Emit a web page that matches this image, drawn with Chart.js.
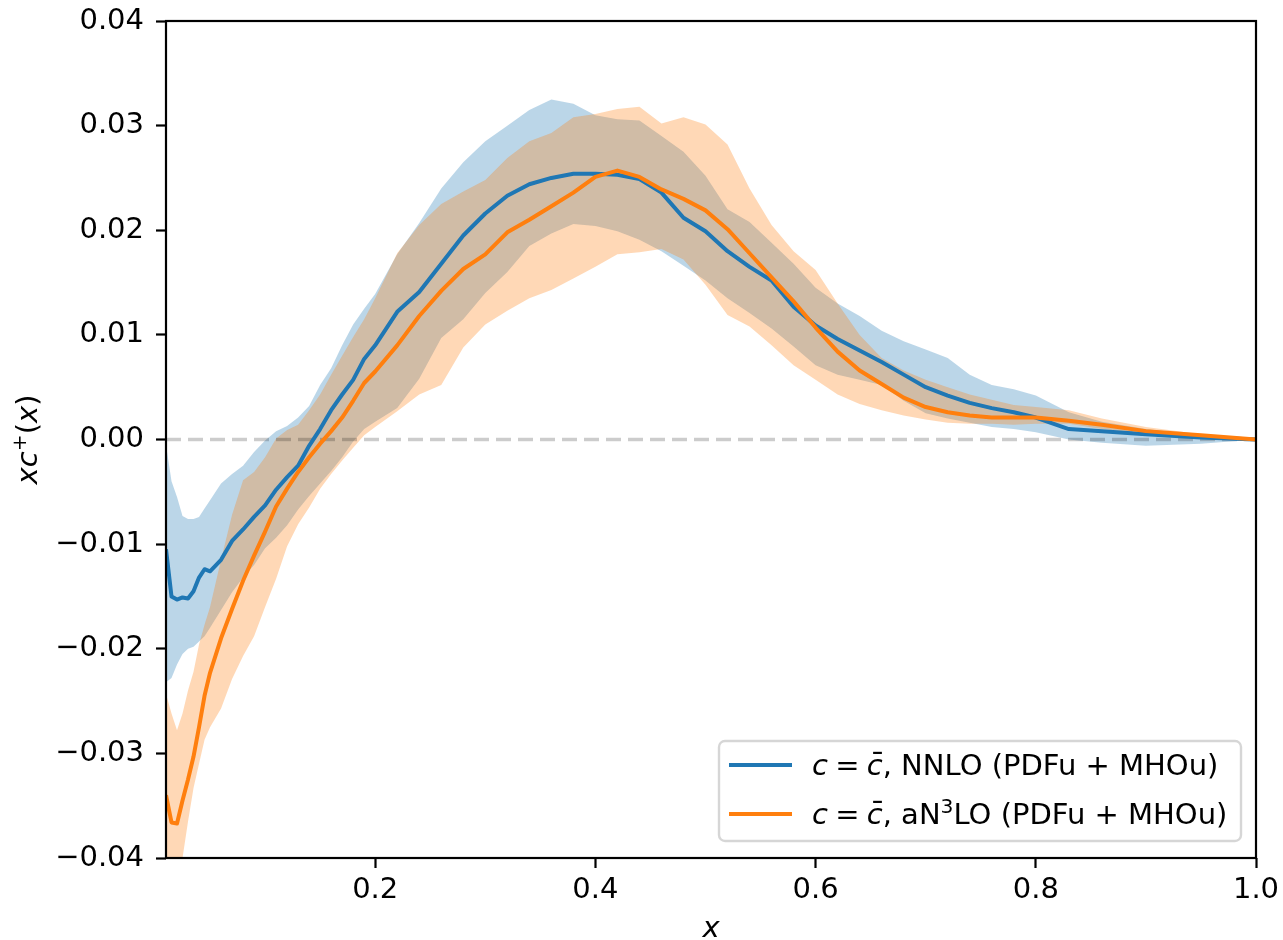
<!DOCTYPE html>
<html>
<head>
<meta charset="utf-8">
<script src="https://cdn.jsdelivr.net/npm/chart.js@4.4.1/dist/chart.umd.min.js"></script>
<style>
  html, body { margin: 0; padding: 0; background: #ffffff; }
  #wrap { width: 1283px; height: 940px; position: relative; }
</style>
</head>
<body>
<div id="wrap"><canvas id="c" width="1283" height="940"></canvas></div>
<script>
// ---------------- data ----------------
const xGrid = [0.01,0.015,0.02,0.025,0.03,0.035,0.04,0.045,0.05,
  0.06,0.07,0.08,0.09,0.10,0.11,0.12,0.13,0.14,0.15,0.16,0.17,0.18,0.19,0.20,
  0.22,0.24,0.26,0.28,0.30,0.32,0.34,0.36,0.38,0.40,0.42,0.44,0.46,0.48,0.50,
  0.52,0.54,0.56,0.58,0.60,0.62,0.64,0.66,0.68,0.70,0.72,0.74,0.76,0.78,0.80,
  0.83,0.86,0.90,0.95,1.00];

const nnloCentral = [-0.0105,-0.0150,-0.0153,-0.0151,-0.0152,-0.0145,-0.0132,-0.0124,-0.0126,
  -0.0115,-0.0097,-0.0086,-0.0074,-0.0063,-0.0048,-0.0036,-0.0025,-0.0006,0.0010,0.0028,0.0043,0.0057,0.0077,0.0090,
  0.0122,0.0141,0.0168,0.0195,0.0216,0.0233,0.0244,0.0250,0.0254,0.0254,0.0253,0.0249,0.0236,0.0212,0.0199,
  0.0180,0.0165,0.0152,0.0127,0.0109,0.0096,0.0085,0.0074,0.0062,0.0050,0.0042,0.0035,0.0030,0.0026,0.0021,
  0.0010,0.0008,0.0005,0.0002,0.0];
const nnloUpper = [-0.0005,-0.0040,-0.0055,-0.0073,-0.0076,-0.0076,-0.0074,-0.0066,-0.0058,
  -0.0042,-0.0033,-0.0025,-0.0012,-0.0001,0.0008,0.0013,0.0021,0.0032,0.0052,0.0068,0.0090,0.0110,0.0125,0.0139,
  0.0177,0.0207,0.0240,0.0265,0.0285,0.0300,0.0315,0.0325,0.0321,0.0310,0.0306,0.0305,0.0290,0.0275,0.0252,
  0.0220,0.0208,0.0188,0.0168,0.0145,0.0130,0.0118,0.0104,0.0094,0.0086,0.0078,0.0062,0.0052,0.0048,0.0042,
  0.0026,0.0017,0.0010,0.0004,0.0];
const nnloLower = [-0.0232,-0.0228,-0.0215,-0.0205,-0.0200,-0.0198,-0.0193,-0.0188,-0.0180,
  -0.0163,-0.0146,-0.0132,-0.0120,-0.0104,-0.0094,-0.0082,-0.0067,-0.0054,-0.0042,-0.0030,-0.0017,-0.0002,0.0010,0.0017,
  0.0030,0.0058,0.0097,0.0115,0.0140,0.0160,0.0185,0.0197,0.0206,0.0204,0.0199,0.0191,0.0180,0.0166,0.0152,
  0.0135,0.0121,0.0106,0.0089,0.0071,0.0062,0.0057,0.0052,0.0037,0.0025,0.0020,0.0016,0.0012,0.0010,0.0007,
  0.0000,-0.0003,-0.0006,-0.0004,0.0];

const an3loCentral = [-0.0340,-0.0366,-0.0367,-0.0345,-0.0325,-0.0303,-0.0275,-0.0245,-0.0223,
  -0.0190,-0.0162,-0.0135,-0.0111,-0.0088,-0.0064,-0.0047,-0.0031,-0.0017,-0.0004,0.0008,0.0021,0.0037,0.0054,0.0065,
  0.0090,0.0118,0.0142,0.0163,0.0177,0.0198,0.0210,0.0223,0.0236,0.0251,0.0257,0.0251,0.0239,0.0230,0.0219,
  0.0201,0.0178,0.0155,0.0132,0.0107,0.0084,0.0066,0.0053,0.0040,0.0031,0.0026,0.0023,0.0021,0.0021,0.0021,
  0.0018,0.0014,0.0008,0.0004,0.0];
const an3loUpper = [-0.0243,-0.0262,-0.0278,-0.0262,-0.0240,-0.0222,-0.0196,-0.0177,-0.0160,
  -0.0115,-0.0072,-0.0039,-0.0031,-0.0017,0.0001,0.0009,0.0014,0.0028,0.0043,0.0062,0.0080,0.0098,0.0115,0.0135,
  0.0178,0.0205,0.0225,0.0237,0.0248,0.0269,0.0285,0.0293,0.0308,0.0311,0.0316,0.0318,0.0302,0.0308,0.0301,
  0.0282,0.0240,0.0205,0.0180,0.0162,0.0130,0.0100,0.0078,0.0066,0.0057,0.0050,0.0043,0.0038,0.0033,0.0031,
  0.0028,0.0020,0.0012,0.0005,0.0];
const an3loLower = [-0.0470,-0.0460,-0.0450,-0.0400,-0.0365,-0.0333,-0.0310,-0.0287,-0.0275,
  -0.0257,-0.0229,-0.0207,-0.0188,-0.0160,-0.0133,-0.0102,-0.0081,-0.0065,-0.0047,-0.0033,-0.0020,-0.0008,0.0004,0.0012,
  0.0027,0.0043,0.0052,0.0088,0.0110,0.0123,0.0135,0.0143,0.0154,0.0165,0.0177,0.0179,0.0182,0.0172,0.0148,
  0.0119,0.0108,0.0090,0.0071,0.0057,0.0043,0.0034,0.0028,0.0023,0.0019,0.0016,0.0015,0.0015,0.0014,0.0015,
  0.0015,0.0010,0.0005,0.0002,0.0];

const zeroLineX = [0.01, 1.0];
const zeroLineY = [0, 0];

const xTicks = [0.2, 0.4, 0.6, 0.8, 1.0];
const yTicks = [-0.04, -0.03, -0.02, -0.01, 0.0, 0.01, 0.02, 0.03, 0.04];
const seriesNames = ['NNLO (PDFu + MHOu)', 'LO (PDFu + MHOu)'];

// ---------------- styling ----------------
const BLUE = '#1f77b4', ORANGE = '#ff7f0e';
const FS = 29;
const FONT = '"DejaVu Sans", "Liberation Sans", sans-serif';
const LW = 4.0;

function pts(xs, ys) { return xs.map((x, i) => ({ x: x, y: ys[i] })); }

function band(data, color, fillTarget, order) {
  return { data: data, borderColor: 'rgba(0,0,0,0)', borderWidth: 0, pointRadius: 0,
           backgroundColor: color, fill: fillTarget, order: order };
}

const datasets = [
  band(pts(xGrid, nnloLower), 'rgba(0,0,0,0)', false, 6),
  band(pts(xGrid, nnloUpper), 'rgba(31,119,180,0.3)', 0, 5),
  band(pts(xGrid, an3loLower), 'rgba(0,0,0,0)', false, 4),
  band(pts(xGrid, an3loUpper), 'rgba(255,127,14,0.3)', 2, 3),
  { data: pts(zeroLineX, zeroLineY), borderColor: 'rgba(0,0,0,0.2)', borderWidth: 3.6,
    borderDash: [15, 7], pointRadius: 0, fill: false, order: 2 },
  { data: pts(xGrid, nnloCentral), borderColor: BLUE, borderWidth: LW, pointRadius: 0,
    fill: false, order: 1, borderJoinStyle: 'round' },
  { data: pts(xGrid, an3loCentral), borderColor: ORANGE, borderWidth: LW, pointRadius: 0,
    fill: false, order: 0, borderJoinStyle: 'round' }
];

// mixed-font text runs
function runs(ctx, x, y, list, size, draw) {
  let cx = x;
  for (const r of list) {
    if (r.gap) { cx += r.gap * size; continue; }
    const fs = r.sup ? size * 0.7 : size;
    ctx.font = (r.it ? 'italic ' : '') + fs + 'px ' + FONT;
    const w = ctx.measureText(r.t).width;
    if (draw) {
      const dy = r.sup ? -r.sup * size : 0;
      ctx.fillText(r.t, cx, y + dy);
      if (r.bar) {
        ctx.fillRect(cx + w * 0.40, y - size * 0.80, w * 0.55, size * 0.075);
      }
    }
    cx += w;
  }
  return cx - x;
}

const decor = {
  id: 'decor',
  afterDraw(chart) {
    const ctx = chart.ctx;
    const a = chart.chartArea;
    ctx.save();
    // spines
    ctx.strokeStyle = '#000';
    ctx.lineWidth = 2.2;
    ctx.strokeRect(a.left, a.top, a.right - a.left, a.bottom - a.top);

    ctx.fillStyle = '#000';
    ctx.textBaseline = 'alphabetic';
    ctx.textAlign = 'left';

    // x axis label
    const xl = [{ t: 'x', it: 1 }];
    let w = runs(ctx, 0, 0, xl, FS, false);
    runs(ctx, (a.left + a.right) / 2 - w / 2, 937, xl, FS, true);

    // y axis label
    const yl = [{ t: 'xc', it: 1 }, { t: '+', sup: 0.38 }, { t: '(' }, { t: 'x', it: 1 }, { t: ')' }];
    w = runs(ctx, 0, 0, yl, FS, false);
    ctx.save();
    ctx.translate(37, (a.top + a.bottom) / 2);
    ctx.rotate(-Math.PI / 2);
    runs(ctx, -w / 2, 0, yl, FS, true);
    ctx.restore();

    // legend
    const bx = 719, by = 741, bw = 522, bh = 100, rr = 6;
    ctx.beginPath();
    ctx.moveTo(bx + rr, by);
    ctx.lineTo(bx + bw - rr, by); ctx.arcTo(bx + bw, by, bx + bw, by + rr, rr);
    ctx.lineTo(bx + bw, by + bh - rr); ctx.arcTo(bx + bw, by + bh, bx + bw - rr, by + bh, rr);
    ctx.lineTo(bx + rr, by + bh); ctx.arcTo(bx, by + bh, bx, by + bh - rr, rr);
    ctx.lineTo(bx, by + rr); ctx.arcTo(bx, by, bx + rr, by, rr);
    ctx.closePath();
    ctx.fillStyle = 'rgba(255,255,255,0.8)';
    ctx.fill();
    ctx.strokeStyle = '#d6d6d6';
    ctx.lineWidth = 2.4;
    ctx.stroke();

    const rows = [
      { color: BLUE, y: 775, list: [{ t: 'c', it: 1 }, { gap: 0.25 }, { t: '=' }, { gap: 0.25 },
        { t: 'c', it: 1, bar: 1 }, { t: ', ' + seriesNames[0] }] },
      { color: ORANGE, y: 824, list: [{ t: 'c', it: 1 }, { gap: 0.25 }, { t: '=' }, { gap: 0.25 },
        { t: 'c', it: 1, bar: 1 }, { t: ', aN' }, { t: '3', sup: 0.38 }, { t: seriesNames[1] }] }
    ];
    for (const r of rows) {
      ctx.strokeStyle = r.color;
      ctx.lineWidth = LW;
      ctx.beginPath();
      ctx.moveTo(729, r.y - 10);
      ctx.lineTo(792, r.y - 10);
      ctx.stroke();
      ctx.fillStyle = '#000';
      runs(ctx, 812, r.y, r.list, FS, true);
    }
    ctx.restore();
  }
};

const fmtY = v => {
  const r = Math.round(v * 100) / 100;
  return (r < 0 ? '\u2212' : '') + Math.abs(r).toFixed(2);
};

new Chart(document.getElementById('c'), {
  type: 'line',
  data: { datasets: datasets },
  options: {
    responsive: false,
    animation: false,
    devicePixelRatio: 1,
    layout: { padding: { left: 0, right: 27, top: 21, bottom: 0 } },
    plugins: { legend: { display: false }, tooltip: { enabled: false }, filler: { propagate: false } },
    elements: { point: { radius: 0 }, line: { tension: 0 } },
    scales: {
      x: {
        type: 'linear', min: 0.01, max: 1.0,
        afterBuildTicks: s => { s.ticks = xTicks.map(v => ({ value: v })); },
        afterFit: s => { s.height = 82; s.paddingLeft = 0; s.paddingRight = 0; },
        border: { display: false },
        grid: { display: true, drawOnChartArea: false, drawTicks: true, tickLength: 10,
                tickWidth: 2.2, tickColor: '#000' },
        ticks: { color: '#000', font: { family: FONT, size: FS }, padding: 5,
                 maxRotation: 0, autoSkip: false, callback: v => Number(v).toFixed(1) }
      },
      y: {
        type: 'linear', min: -0.04, max: 0.04,
        afterBuildTicks: s => { s.ticks = yTicks.map(v => ({ value: v })); },
        afterFit: s => { s.width = 166; s.paddingTop = 0; s.paddingBottom = 0; },
        border: { display: false },
        grid: { display: true, drawOnChartArea: false, drawTicks: true, tickLength: 10,
                tickWidth: 2.2, tickColor: '#000' },
        ticks: { color: '#000', font: { family: FONT, size: FS }, padding: 12,
                 autoSkip: false, callback: v => fmtY(v) }
      }
    }
  },
  plugins: [decor]
});
</script>
</body>
</html>
